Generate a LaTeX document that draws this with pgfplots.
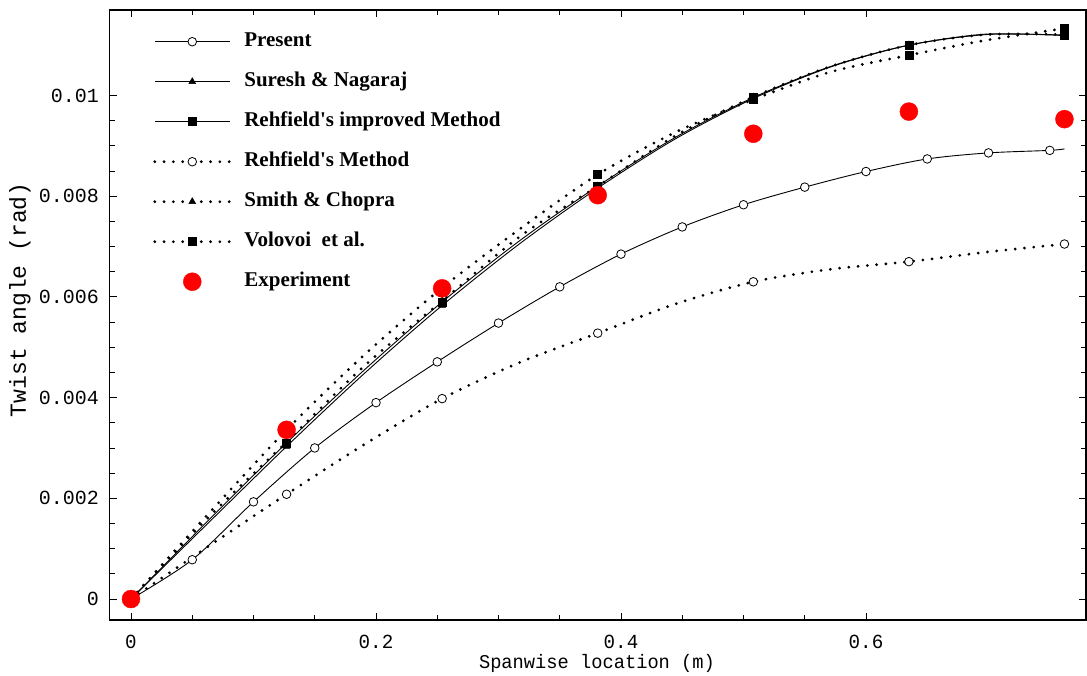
\documentclass[border=0pt]{standalone}
\usepackage{pgfplots}
\pgfplotsset{compat=1.18}
\usepackage{fontspec}
\usepackage{graphicx}
\setmainfont{Liberation Serif}
\setmonofont{Liberation Mono}

% x-axis text is set slightly narrower than the y-axis text
\newcommand\tall[1]{\scalebox{0.96}[1.0]{#1}}

\pgfplotsset{
  solidcurve/.style={black, line width=0.9pt, smooth},
  dotcurve/.style={black, line width=3.1pt, line cap=round, dash pattern=on 0pt off 9.3pt, smooth},
  opencirc/.style={mark=*, mark size=4.3pt, mark options={solid, fill=white, draw=black, line width=0.8pt}},
  tri/.style={mark=triangle*, mark size=4pt, mark options={solid, line width=0.5pt}},
  sq/.style={mark=square*, mark size=4pt, mark options={solid, line width=0.5pt}},
}

\begin{document}
\begin{tikzpicture}
\path[use as bounding box] (-109.5pt,-55pt) rectangle (977.5pt,620pt);
\begin{axis}[
  at={(0pt,0pt)}, anchor=south west,
  scale only axis, width=976.5pt, height=610pt,
  xmin=-0.01755, xmax=0.77959,
  ymin=-0.000417, ymax=0.011698,
  scaled x ticks=false, scaled y ticks=false,
  axis line style={line width=1.1pt},
  tick align=inside,
  xtick={0,0.2,0.4,0.6},
  xticklabels={\tall{0},\tall{0.2},\tall{0.4},\tall{0.6}},
  ytick={0,0.002,0.004,0.006,0.008,0.01},
  yticklabels={0,0.002,0.004,0.006,0.008,0.01},
  minor x tick num=3, minor y tick num=3,
  major tick length=7pt, minor tick length=5pt,
  tick style={line width=0.8pt, black},
  ticklabel style={font=\ttfamily\fontsize{20}{20}\selectfont},
  xticklabel style={anchor=center, yshift=-22pt},
  yticklabel style={anchor=east, xshift=-7pt},
  xlabel={\tall{Spanwise location (m)}},
  ylabel={Twist angle (rad)},
  xlabel style={font=\ttfamily\fontsize{19.5}{20}\selectfont,
    at={(axis description cs:0.4992,-0.0715)}, anchor=center},
  ylabel style={font=\ttfamily\fontsize{23}{23}\selectfont,
    at={(axis description cs:-0.0917,0.525)}, anchor=center},
  legend style={at={(0.0415,0.968)}, anchor=north west, draw=none, fill=none,
    font=\bfseries\fontsize{21}{21}\selectfont, row sep=20pt, column sep=13pt,
    nodes={inner sep=0pt, text height=15pt, text depth=5pt}},
  legend cell align=left,
  legend image code/.code={\draw[mark repeat=2,mark phase=2] plot coordinates {(0pt,0pt) (37.5pt,0pt) (75pt,0pt)};},
]

% Present
\addplot[solidcurve, opencirc, mark indices={2,...,16},
  legend image code/.code={\draw[mark indices={2}] plot coordinates {(0pt,0pt) (37.5pt,0pt) (75pt,0pt)};}] table {
0      0
0.05   0.00078
0.10   0.00193
0.15   0.00300
0.20   0.00390
0.25   0.00471
0.30   0.00548
0.35   0.00620
0.40   0.00685
0.45   0.00739
0.50   0.00783
0.55   0.00818
0.60   0.00849
0.65   0.00874
0.70   0.00886
0.75   0.00891
0.762  0.00894
};
\addlegendentry{Present}

% Suresh & Nagaraj
\addplot[solidcurve, tri, mark repeat=2] table {
0      0
0.0635 0.00152
0.127  0.00303
0.1905 0.00448
0.254  0.00583
0.3175 0.00706
0.381  0.00816
0.4445 0.00914
0.508  0.00994
0.5715 0.01057
0.635  0.01100
0.6985 0.01122
0.762  0.01119
};
\addlegendentry{Suresh \& Nagaraj}

% Rehfield's improved method
\addplot[solidcurve, sq, mark repeat=2] table {
0      0
0.0635 0.00157
0.127  0.00310
0.1905 0.00455
0.254  0.00590
0.3175 0.00712
0.381  0.00820
0.4445 0.00917
0.508  0.00996
0.5715 0.01058
0.635  0.01100
0.6985 0.01121
0.762  0.01120
};
\addlegendentry{Rehfield\textquotesingle s improved Method}

% Rehfield's method
\addplot[dotcurve, opencirc, mark repeat=2] table {
0      0
0.0635 0.00105
0.127  0.00208
0.1905 0.00307
0.254  0.00398
0.3175 0.00470
0.381  0.00528
0.4445 0.00586
0.508  0.00630
0.5715 0.00655
0.635  0.00670
0.6985 0.00689
0.762  0.00705
};
\addlegendentry{Rehfield\textquotesingle s Method}

% Smith & Chopra
\addplot[dotcurve, tri, mark repeat=2] table {
0      0
0.0635 0.00163
0.127  0.00312
0.1905 0.00463
0.254  0.00592
0.3175 0.00720
0.381  0.00820
0.4445 0.00920
0.508  0.00997
0.5715 0.01058
0.635  0.01100
0.6985 0.01121
0.762  0.01121
};
\addlegendentry{Smith \& Chopra}

% Volovoi et al.
\addplot[dotcurve, sq, mark repeat=2] table {
0      0
0.0635 0.00170
0.127  0.00336
0.1905 0.00485
0.254  0.00618
0.3175 0.00735
0.381  0.00843
0.4445 0.00927
0.508  0.00992
0.5715 0.01047
0.635  0.01080
0.6985 0.01110
0.762  0.01133
};
\addlegendentry{Volovoi\ \ et al.}

% Experiment
\addplot[only marks, mark=*, color=red, mark size=9pt,
  legend image code/.code={\fill[red] (37.5pt,0pt) circle (9pt);}] table {
0      0
0.127  0.00336
0.254  0.00617
0.381  0.00802
0.508  0.00924
0.635  0.00968
0.762  0.00953
};
\addlegendentry{Experiment}

\end{axis}
\end{tikzpicture}
\end{document}
